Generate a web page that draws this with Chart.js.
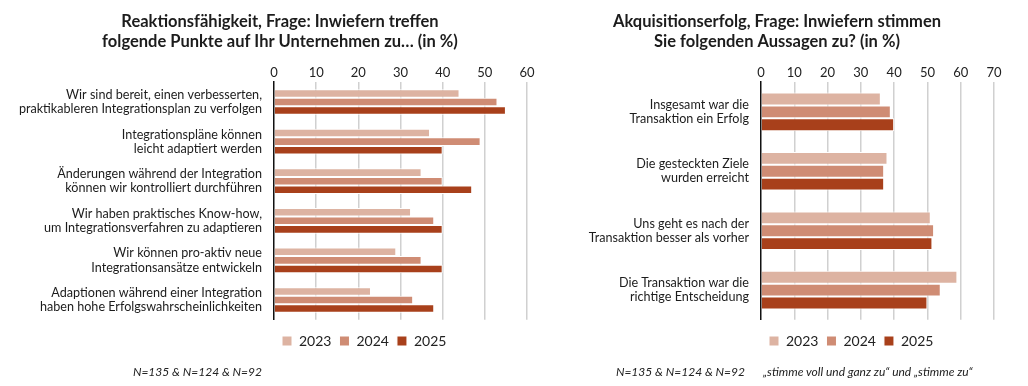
<!DOCTYPE html>
<html lang="de">
<head>
<meta charset="utf-8">
<title>Reaktionsfähigkeit und Akquisitionserfolg</title>
<script src="https://cdn.jsdelivr.net/npm/chart.js@4/dist/chart.umd.min.js"></script>
<style>
  html, body { margin: 0; padding: 0; background: #fff; }
  body { width: 1028px; height: 386px; position: relative; overflow: hidden;
         font-family: Lato, "Open Sans", sans-serif; }
  canvas { position: absolute; top: 0; }
  #chartLeft  { left: 0; }
  #chartRight { left: 560px; }
  .note { position: absolute; top: 364px; font-size: 12px; font-style: italic; color: #222; white-space: nowrap; }
</style>
</head>
<body>
<canvas id="chartLeft" width="560" height="386"></canvas>
<canvas id="chartRight" width="467" height="386"></canvas>
<div class="note" style="right: 766px;">N=135 &amp; N=124 &amp; N=92</div>
<div class="note" style="right: 283px;">N=135 &amp; N=124 &amp; N=92</div>
<div class="note" style="left: 763px;">„stimme voll und ganz zu“ und „stimme zu“</div>
<script>
// --- Daten ---------------------------------------------------------------
const years = ["2023", "2024", "2025"];

const leftTitle = ["Reaktionsfähigkeit, Frage: Inwiefern treffen", "folgende Punkte auf Ihr Unternehmen zu… (in %)"];
const leftLabels = [
  ["Wir sind bereit, einen verbesserten,", "praktikableren Integrationsplan zu verfolgen"],
  ["Integrationspläne können", "leicht adaptiert werden"],
  ["Änderungen während der Integration", "können wir kontrolliert durchführen"],
  ["Wir haben praktisches Know-how,", "um Integrationsverfahren zu adaptieren"],
  ["Wir können pro-aktiv neue", "Integrationsansätze entwickeln"],
  ["Adaptionen während einer Integration", "haben hohe Erfolgswahrscheinlichkeiten"],
];
const left2023 = [44, 37, 35, 32.5, 29, 23];
const left2024 = [53, 49, 40, 38, 35, 33];
const left2025 = [55, 40, 47, 40, 40, 38];

const rightTitle = ["Akquisitionserfolg, Frage: Inwiefern stimmen", "Sie folgenden Aussagen zu? (in %)"];
const rightLabels = [
  ["Insgesamt war die", "Transaktion ein Erfolg"],
  ["Die gesteckten Ziele", "wurden erreicht"],
  ["Uns geht es nach der", "Transaktion besser als vorher"],
  ["Die Transaktion war die", "richtige Entscheidung"],
];
const right2023 = [36, 38, 51, 59];
const right2024 = [39, 37, 52, 54];
const right2025 = [40, 37, 51.5, 50];

const C = {
  y2023: "#ddb3a2",
  y2024: "#cf8c74",
  y2025: "#a8401b",
  ink:   "#1c1c1c",
  grid:  "#d0d0d0",
};

Chart.defaults.animation = false;
Chart.defaults.font.family = "Lato, 'Open Sans', sans-serif";
Chart.defaults.color = C.ink;

function datasets(a, b, c) {
  const common = { borderColor: "#ffffff", borderWidth: 1, borderSkipped: "start",
                   barPercentage: 1, categoryPercentage: 0.65 };
  return [
    Object.assign({ label: years[0], data: a, backgroundColor: C.y2023 }, common),
    Object.assign({ label: years[1], data: b, backgroundColor: C.y2024 }, common),
    Object.assign({ label: years[2], data: c, backgroundColor: C.y2025 }, common),
  ];
}

// axisWidth: Breite der Kategorie-Achse links; spacer: leere Achse rechts,
// damit der Titel unabhängig von der Plotfläche zentriert werden kann
function makeChart(id, title, labels, ds, xMax, axisWidth, padRight, spacer) {
  return new Chart(document.getElementById(id), {
    type: "bar",
    data: { labels, datasets: ds },
    options: {
      indexAxis: "y",
      responsive: false,
      maintainAspectRatio: false,
      layout: { padding: { top: 12, right: padRight, bottom: 28, left: 0 } },
      plugins: {
        title: { display: true, text: title, color: C.ink,
                 font: { size: 16.5, weight: "bold", lineHeight: 1.2 },
                 padding: { top: 0, bottom: 11 } },
        legend: {
          position: "bottom", align: "start", fullSize: false,
          title: { display: true, text: "", font: { size: 1 }, padding: { top: 5, bottom: 0 } },
          labels: { boxWidth: 10, boxHeight: 10, padding: 8, color: "#222", font: { size: 14 } },
        },
        tooltip: { enabled: false },
      },
      scales: {
        x: {
          position: "top", min: 0, max: xMax,
          ticks: { stepSize: 10, padding: 2, color: "#222", font: { size: 13 } },
          grid: { color: (ctx) => (ctx.tick && ctx.tick.value === 0 ? "rgba(0,0,0,0)" : C.grid),
                  lineWidth: 1.5, drawTicks: false },
          border: { display: false },
        },
        y: {
          afterFit: (s) => { s.width = axisWidth; },
          ticks: { padding: 12, color: C.ink, font: { size: 12.6, lineHeight: 1.12 } },
          grid: { display: false, drawTicks: false },
          border: { display: true, color: "#111", width: 1.5 },
        },
        y2: {
          type: "category", position: "right", display: spacer > 0,
          afterFit: (s) => { s.width = spacer; },
          ticks: { display: false },
          grid: { display: false, drawTicks: false },
          border: { display: false },
        },
      },
    },
  });
}

makeChart("chartLeft", leftTitle, leftLabels, datasets(left2023, left2024, left2025), 60, 274, 0, 33);
makeChart("chartRight", rightTitle, rightLabels, datasets(right2023, right2024, right2025), 70, 201, 33, 0);
</script>
</body>
</html>
